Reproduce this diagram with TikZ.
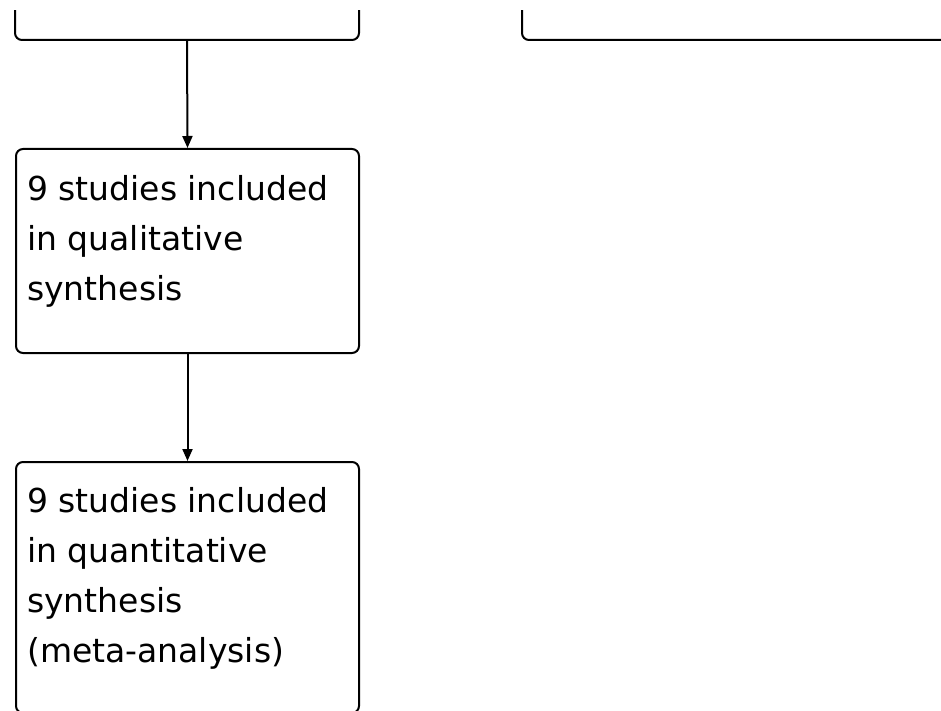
\documentclass[tikz,border=0pt]{standalone}
\usepackage{fontspec}
\setmainfont{DejaVu Sans}
\usetikzlibrary{arrows.meta,positioning}

\tikzset{
  stagebox/.style={draw, line width=2pt, rounded corners=7pt, inner sep=0pt, anchor=north west},
  stagetext/.style={anchor=north west, align=left, inner sep=0pt, font=\fontsize{33}{50}\selectfont},
  flow/.style={line width=2pt, -{Triangle[length=12pt,width=10pt]}},
}

\begin{document}
\begin{tikzpicture}[x=1pt,y=-1pt]
  \useasboundingbox (0,0) rectangle (941,711);
  \clip (0,0) rectangle (941,711);

  % boxes (top two are cut by the frame)
  \begin{scope}
    \clip (0,11) rectangle (941,711);
    \node[stagebox, minimum width=344pt, minimum height=139pt] (fulltext) at (14,-100) {};
    \node[stagebox, minimum width=480pt, minimum height=139pt] (excluded) at (521,-100) {};
  \end{scope}
  \node[stagebox, minimum width=343pt, minimum height=204pt] (qual) at (15,148) {};
  \node[stagebox, minimum width=343pt, minimum height=251pt] (quant) at (15,461) {};

  % texts
  \node[stagetext, xshift=12pt, yshift=-27pt] (qualtext) at (qual.north west)
    {9 studies included\\in qualitative\\synthesis};
  \node[stagetext, xshift=12pt, yshift=-26pt] (quanttext) at (quant.north west)
    {9 studies included\\in quantitative\\synthesis\\(meta-analysis)};

  % arrows
  \draw[flow] (fulltext.south) -- (qual.north);
  \draw[flow] (qual.south) -- (quant.north);

\end{tikzpicture}
\end{document}
